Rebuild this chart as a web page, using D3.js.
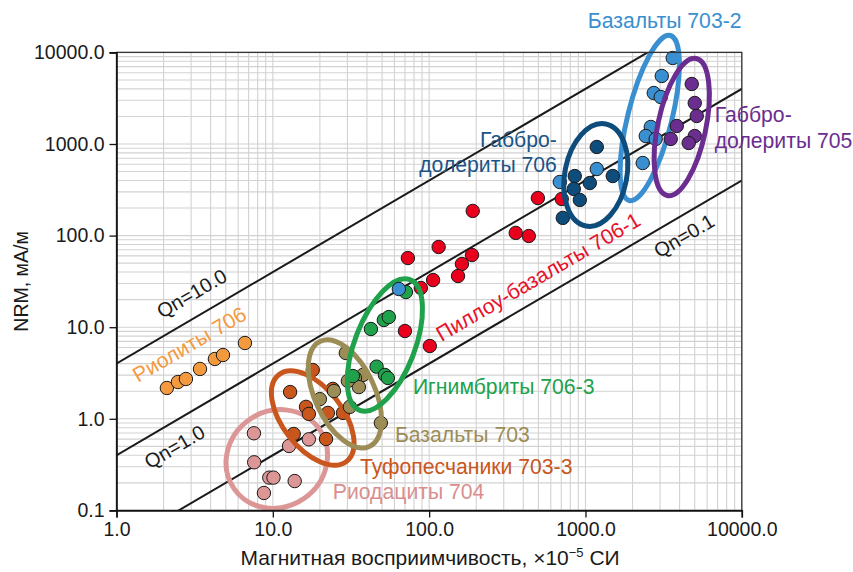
<!DOCTYPE html>
<html>
<head>
<meta charset="utf-8">
<script src="https://cdn.jsdelivr.net/npm/d3@7"></script>
<style>
  body { margin: 0; background: #fff; }
  text { font-family: "Liberation Sans", Arial, Helvetica, sans-serif; }
</style>
</head>
<body>
<svg id="chart" width="853" height="572"></svg>
<script>
// ---- data: magnetic susceptibility K (×10^-5 SI) vs NRM (mA/m) ----
const qnValues = [10.0, 1.0, 0.1];
const qnLabels = ["Qn=10.0", "Qn=1.0", "Qn=0.1"];
const fieldFactor = 0.4;               // NRM = 0.4 · Qn · K for H = 40 A/m

const xTicks = [1, 10, 100, 1000, 10000];
const yTicks = [0.1, 1, 10, 100, 1000, 10000];

const rhyolites706 = [[2.10,2.17],[2.47,2.52],[2.78,2.72],[3.42,3.50],[4.26,4.50],[4.80,4.97],[6.63,6.72]];
const rhyodacites704 = [[7.57,0.695],[7.60,0.335],[12.7,0.505],[17.0,0.597],[9.49,0.228],[10.1,0.228],[13.8,0.209],[8.77,0.155]];
const tuffSandstones703_3 = [[12.9,1.96],[18.0,3.41],[16.3,1.35],[17.0,1.13],[22.5,1.16],[13.6,0.683],[21.9,0.602],[28.1,1.16],[24.2,2.12]];
const basalts703 = [[29.3,5.23],[37.7,3.01],[33.5,2.79],[35.5,2.22],[30.2,2.59],[20.0,1.64],[24.6,2.01],[31.1,1.35],[49.1,0.90]];
const ignimbrites706_3 = [[42.4,9.56],[51.3,12.0],[55.2,12.9],[71.0,24.2],[46.1,3.71],[32.5,2.93],[52.1,3.01],[54.4,2.79]];
const pillowBasalts706_1 = [[190,186],[496,257],[705,251],[358,107],[434,99],[115,75.1],[73.1,56.9],[188,61.4],[162,49.0],[153,36.2],[106,32.7],[88.5,26.8],[70.0,9.09],[101,6.23]];
const gabbroDolerites706 = [[1181,928],[854,447],[1066,375],[1495,447],[842,323],[920,245],[716,156]];
const basalts703_2 = [[64.0,26.1],[1181,533],[685,385],[3615,8690],[3076,5526],[2734,3603],[3031,3258],[2617,1534],[2430,1222],[2813,1135],[2324,620]];
const gabbroDolerites705 = [[4784,4520],[5000,2803],[5150,2022],[3837,1573],[3510,1135],[5000,1222],[4575,1026]];

// ---- layout ----
const svg = d3.select("#chart");
const margin = { left: 116.5, right: 853 - 741.8, top: 52.4, bottom: 572 - 510.4 };
const W = 853, H = 572;
const x = d3.scaleLog().domain([1, 10000]).range([margin.left, W - margin.right]);
const y = d3.scaleLog().domain([0.1, 10000]).range([H - margin.bottom, margin.top]);
const angle = Math.atan2(y(1) - y(10), x(10) - x(1)) * 180 / Math.PI;

const clipId = "plot-clip";
svg.append("clipPath").attr("id", clipId).append("rect")
  .attr("x", x(1)).attr("y", y(10000))
  .attr("width", x(10000) - x(1)).attr("height", y(0.1) - y(10000));

// ---- grid (major + minor decades) ----
function logGridValues(lo, hi) {
  const out = [];
  for (let d = lo; d < hi; d *= 10) for (let m = 1; m < 10; m++) out.push(+(d * m).toPrecision(6));
  out.push(hi);
  return out;
}
const grid = svg.append("g").attr("stroke", "#d2d2d2").attr("stroke-width", 1.1);
grid.selectAll("line.vx").data(logGridValues(1, 10000)).join("line")
  .attr("x1", d => x(d)).attr("x2", d => x(d)).attr("y1", y(0.1)).attr("y2", y(10000));
grid.selectAll("line.hy").data(logGridValues(0.1, 10000)).join("line")
  .attr("y1", d => y(d)).attr("y2", d => y(d)).attr("x1", x(1)).attr("x2", x(10000));

// ---- Qn reference lines ----
const qnG = svg.append("g").attr("clip-path", `url(#${clipId})`);
qnValues.forEach(q => {
  qnG.append("line")
    .attr("x1", x(0.1)).attr("y1", y(fieldFactor * q * 0.1))
    .attr("x2", x(100000)).attr("y2", y(fieldFactor * q * 100000))
    .attr("stroke", "#1a1a1a").attr("stroke-width", 2);
});

// Qn labels: position along the line (K) and perpendicular offset
const qnLabelPos = [{ k: 2.19, dy: -15.5 }, { k: 1.31, dy: 29 }, { k: 2443, dy: 25.5 }];
qnValues.forEach((q, i) => {
  const p = qnLabelPos[i];
  svg.append("text")
    .attr("transform", `translate(${x(p.k)},${y(fieldFactor * q * p.k)}) rotate(${-angle})`)
    .attr("dy", p.dy)
    .attr("font-size", 20).attr("fill", "#1a1a1a")
    .text(qnLabels[i]);
});

// ---- groups: points + outline ellipses ----
const groups = [
  { data: pillowBasalts706_1, color: "#e8001c" },
  { data: rhyodacites704, color: "#dc9696", ell: { k: 10.6, n: 0.364, rx: 52, ry: 48, rot: -35 } },
  { data: tuffSandstones703_3, color: "#c9561c", ell: { k: 18.0, n: 1.02, rx: 55, ry: 30, rot: 52 } },
  { data: basalts703, color: "#9c8d57", ell: { k: 28.9, n: 1.87, rx: 58, ry: 30, rot: 65 } },
  { data: ignimbrites706_3, color: "#20a24c", ell: { k: 52.1, n: 6.39, rx: 70, ry: 30, rot: -69 } },
  { data: rhyolites706, color: "#f39a3f" },
  { data: basalts703_2, color: "#3a8fd0", ell: { k: 2577, n: 1923, rx: 85, ry: 22, rot: -76 } },
  { data: gabbroDolerites706, color: "#0e4c7c", ell: { k: 1164, n: 459, rx: 52, ry: 31, rot: -79 } },
  { data: gabbroDolerites705, color: "#6b2d8f", ell: { k: 4130, n: 1534, rx: 70, ry: 24, rot: -78 } }
];

const marks = svg.append("g");
groups.forEach(g => {
  marks.append("g").selectAll("circle").data(g.data).join("circle")
    .attr("cx", d => x(d[0])).attr("cy", d => y(d[1])).attr("r", 6.7)
    .attr("fill", g.color).attr("stroke", "#1a1a1a").attr("stroke-width", 1);
  if (g.ell) {
    const e = g.ell;
    marks.append("ellipse")
      .attr("transform", `translate(${x(e.k)},${y(e.n)}) rotate(${e.rot})`)
      .attr("rx", e.rx).attr("ry", e.ry)
      .attr("fill", "none").attr("stroke", g.color).attr("stroke-width", 5);
  }
});

// ---- frame and axes ----
svg.append("rect")
  .attr("x", x(1)).attr("y", y(10000))
  .attr("width", x(10000) - x(1)).attr("height", y(0.1) - y(10000))
  .attr("fill", "none").attr("stroke", "#333").attr("stroke-width", 1.3);

const fmt = d => d3.format(".1f")(d);
const xAxis = svg.append("g").attr("transform", `translate(0,${y(0.1)})`)
  .call(d3.axisBottom(x).tickValues(xTicks).tickFormat(fmt).tickSize(7).tickPadding(5));
const yAxis = svg.append("g").attr("transform", `translate(${x(1)},0)`)
  .call(d3.axisLeft(y).tickValues(yTicks).tickFormat(fmt).tickSize(7).tickPadding(5));
[xAxis, yAxis].forEach(a => {
  a.select(".domain").attr("stroke", "#111").attr("stroke-width", 1.6);
  a.selectAll(".tick line").attr("stroke", "#111").attr("stroke-width", 1.3);
  a.selectAll(".tick text").attr("font-size", 19.5).attr("fill", "#1a1a1a")
    .attr("font-family", "'Liberation Sans', Arial, sans-serif");
});

const xLab = svg.append("text")
  .attr("x", (x(1) + x(10000)) / 2 + 1).attr("y", 565)
  .attr("text-anchor", "middle").attr("font-size", 21).attr("fill", "#1a1a1a");
xLab.append("tspan").text("Магнитная восприимчивость, ×10");
xLab.append("tspan").attr("dy", -8).attr("font-size", 13).text("−5");
xLab.append("tspan").attr("dy", 8).text(" СИ");

svg.append("text")
  .attr("transform", `translate(28,${(y(0.1) + y(10000)) / 2}) rotate(-90)`)
  .attr("text-anchor", "middle").attr("font-size", 19.5).attr("fill", "#1a1a1a")
  .text("NRM, мА/м");

// ---- group labels (anchored in data coordinates) ----
const labels = [
  { t: ["Базальты 703-2"], k: 1035, n: 18470, color: "#3a8fd0" },
  { t: ["Габбро-", "долериты 706"], k: 656, n: 928, color: "#1b5585", anchor: "end" },
  { t: ["Габбро-", "долериты 705"], k: 6714, n: 1738, color: "#6b2d8f" },
  { t: ["Игнимбриты 706-3"], k: 78.7, n: 1.87, color: "#20a24c" },
  { t: ["Базальты 703"], k: 60.4, n: 0.558, color: "#9c8d57" },
  { t: ["Туфопесчаники 703-3"], k: 36.1, n: 0.250, color: "#c9561c" },
  { t: ["Риодациты 704"], k: 24.2, n: 0.133, color: "#d98e8e" },
  { t: ["Пиллоу-базальты 706-1"], k: 120, n: 6.9, color: "#e8102a", rotate: true },
  { t: ["Риолиты 706"], k: 1.373, n: 2.46, color: "#f39a3f", rotate: true }
];
labels.forEach(l => {
  const tx = svg.append("text")
    .attr("transform", `translate(${x(l.k)},${y(l.n)})` + (l.rotate ? ` rotate(${-angle})` : ""))
    .attr("font-size", 21.2).attr("fill", l.color)
    .attr("text-anchor", l.anchor || "start");
  l.t.forEach((s, i) => tx.append("tspan").attr("x", 0).attr("dy", i === 0 ? 0 : 25.5).text(s));
});
</script>
</body>
</html>
